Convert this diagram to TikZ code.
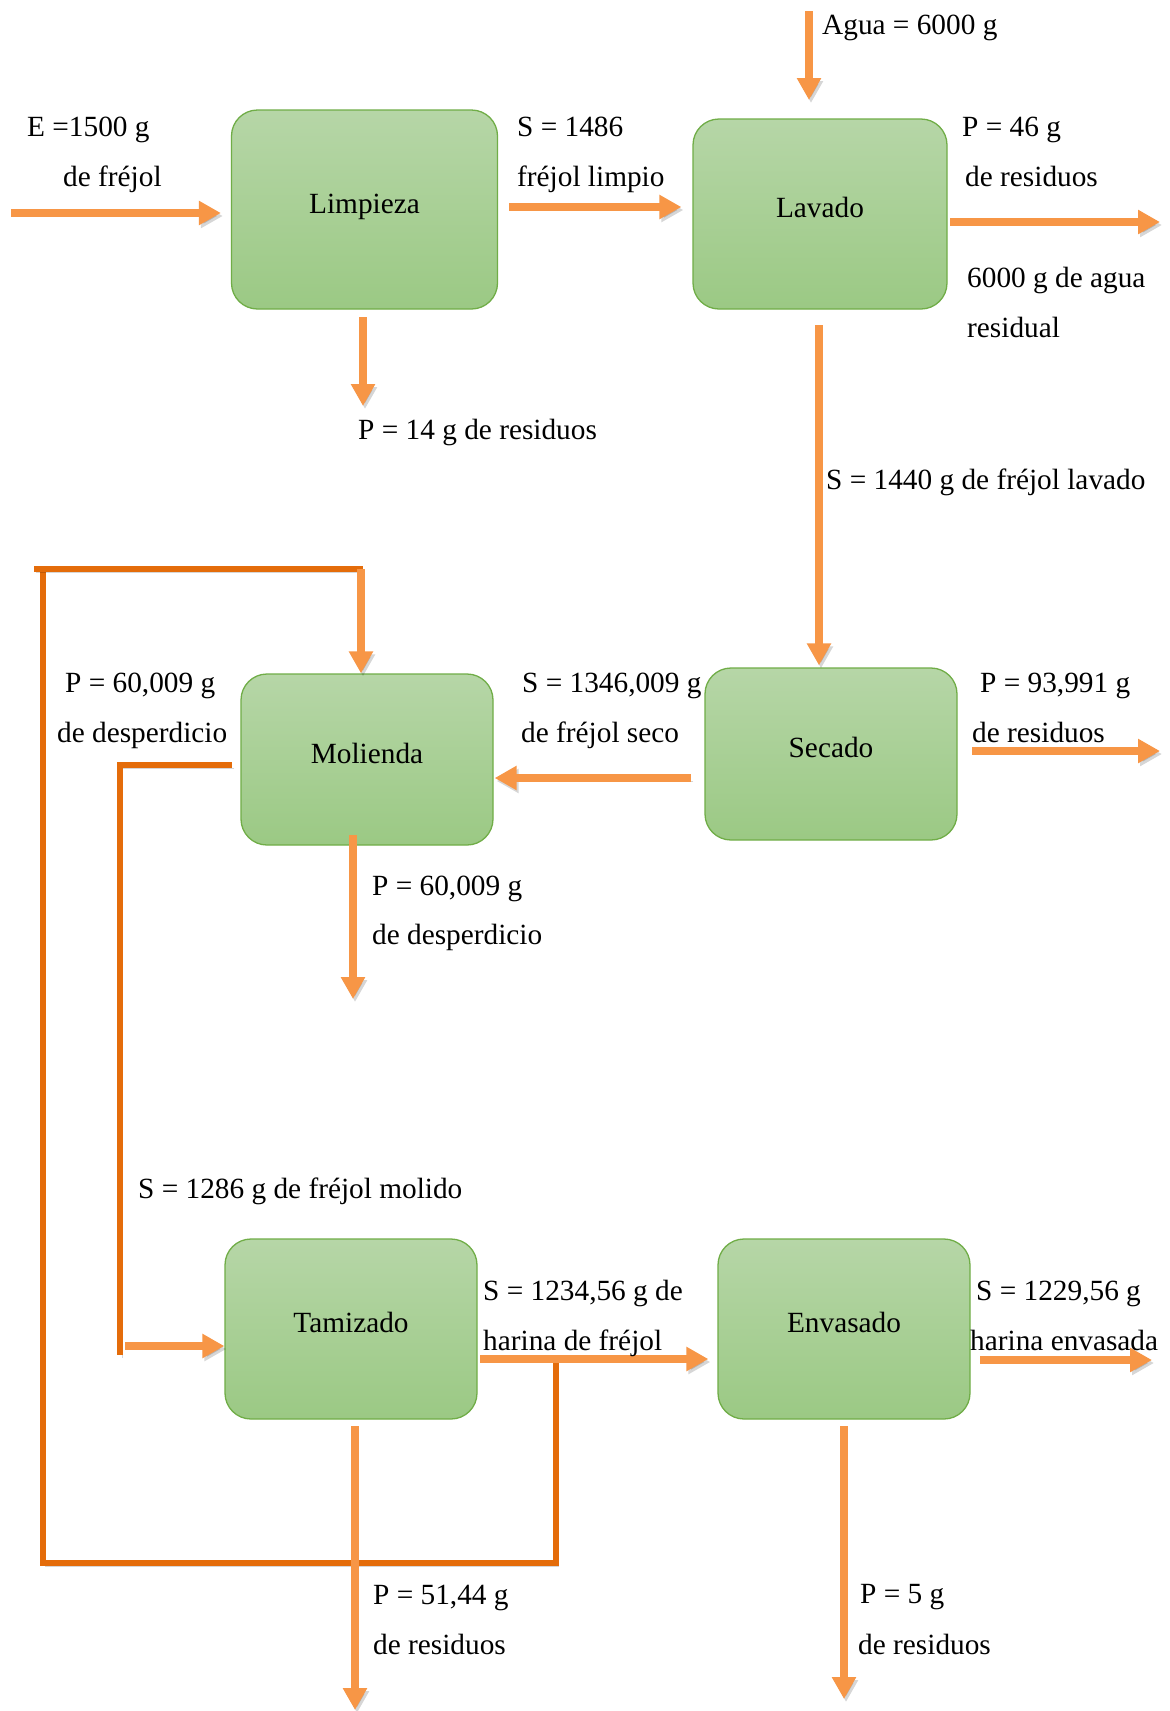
\documentclass[tikz,border=0pt]{standalone}
\usepackage{fontspec}
\setmainfont{Liberation Serif}
\usetikzlibrary{arrows.meta,calc}

\definecolor{flowor}{HTML}{F79646}
\definecolor{loopor}{HTML}{E46C0A}
\definecolor{boxtop}{RGB}{182,214,167}
\definecolor{boxbot}{RGB}{155,201,132}
\definecolor{boxline}{HTML}{70AD47}

\tikzset{
  stepbox/.style={draw=boxline, line width=1.3pt, rounded corners=26pt,
    top color=boxtop, bottom color=boxbot, inner sep=0pt},
  boxtext/.style={inner sep=0pt, text height=0.68em, text depth=0.22em,
    font=\fontsize{29.3}{35}\selectfont},
  lbl/.style={anchor=west, inner sep=0pt, text height=0.68em, text depth=0.22em,
    yshift=-7pt, font=\fontsize{29.3}{35}\selectfont},
  softshadow/.style={preaction={draw=black, opacity=0.16,
    transform canvas={shift={(2pt,-3pt)}}}},
  flow/.style={draw=flowor, line width=8pt, softshadow,
    -{Triangle[width=23pt,length=22pt]}},
  recycle/.style={draw=loopor, line width=5.5pt, softshadow},
}

\begin{document}
\begin{tikzpicture}[x=1pt, y=-1pt]
\useasboundingbox[fill=white] (0,0) rectangle (1170,1711);

% process boxes
\node[stepbox, minimum width=266pt, minimum height=199pt] (lim) at (364.5,209.5) {};
\node[stepbox, minimum width=254pt, minimum height=190pt] (lav) at (820,214) {};
\node[stepbox, minimum width=252pt, minimum height=171pt] (mol) at (367,759.5) {};
\node[stepbox, minimum width=252pt, minimum height=172pt] (sec) at (831,754) {};
\node[stepbox, minimum width=252pt, minimum height=180pt] (tam) at (351,1329) {};
\node[stepbox, minimum width=252pt, minimum height=180pt] (env) at (844,1329) {};

\node[boxtext] (limT) at ($(lim.center)+(0,1.5)$) {Limpieza};
\node[boxtext] (lavT) at ($(lav.center)+(0,1.5)$) {Lavado};
\node[boxtext] (molT) at ($(mol.center)+(0,1.5)$) {Molienda};
\node[boxtext] (secT) at ($(sec.center)+(0,1.5)$) {Secado};
\node[boxtext] (tamT) at ($(tam.center)+(0,1.5)$) {Tamizado};
\node[boxtext] (envT) at ($(env.center)+(0,1.5)$) {Envasado};

% free ends of the streams
\coordinate (inE)   at (11,213);
\coordinate (limR)  at (509,207);
\coordinate (limD0) at (363,317);
\coordinate (limD1) at (363,406);
\coordinate (agua0) at (809,11);
\coordinate (agua1) at (809,100);
\coordinate (lavR0) at (950,222);
\coordinate (lavR1) at (1160,222);
\coordinate (lavD)  at (819,325);
\coordinate (secL)  at (691,778);
\coordinate (secR0) at (972,751);
\coordinate (secR1) at (1160,751);
\coordinate (molD0) at (353,835);
\coordinate (molD1) at (353,999);
\coordinate (tamR)  at (480,1359);
\coordinate (tamD0) at (355,1426);
\coordinate (tamD1) at (355,1710);
\coordinate (envR0) at (980,1360);
\coordinate (envR1) at (1152,1360);
\coordinate (envD0) at (844,1426);
\coordinate (envD1) at (844,1699);

% recycle loop from the sieving stream back to milling
\coordinate (rcA) at (556,1359);
\coordinate (rcB) at (556,1563);
\coordinate (rcC) at (43,1563);
\coordinate (rcD) at (43,569);
\coordinate (rcE) at (34,569);
\coordinate (rcF) at (363,569);
\coordinate (rcG) at (361,569);
\draw[recycle] (rcA) -- (rcB) -- (rcC) -- (rcD);
\draw[recycle] (rcE) -- (rcF);
\draw[flow] (rcG) -- (rcG |- mol.north);

% milled bean to sieving
\coordinate (mlA) at (232,765);
\coordinate (mlB) at (120,765);
\coordinate (mlC) at (120,1355);
\coordinate (mlD) at (125,1346);
\draw[recycle] (mlA) -- (mlB) -- (mlC);
\draw[flow] (mlD) -- (mlD -| tam.west);

% main streams
\draw[flow] (inE) -- ($(inE -| lim.west)+(-10,0)$);
\draw[flow] (limR) -- ($(limR -| lav.west)+(-11,0)$);
\draw[flow] (limD0) -- (limD1);
\draw[flow] (agua0) -- (agua1);
\draw[flow] (lavR0) -- (lavR1);
\draw[flow] (lavD) -- ($(lavD |- sec.north)+(0,-2)$);
\draw[flow] (secL) -- ($(secL -| mol.east)+(1,0)$);
\draw[flow] (secR0) -- (secR1);
\draw[flow] (molD0) -- (molD1);
\draw[flow] (tamR) -- ($(tamR -| env.west)+(-9,0)$);
\draw[flow] (tamD0) -- (tamD1);
\draw[flow] (envR0) -- (envR1);
\draw[flow] (envD0) -- (envD1);

% stream labels
\node[lbl] (t1)  at (27,127)   {E =1500 g};
\node[lbl] (t2)  at (63,177)   {de fréjol};
\node[lbl] (t3)  at (517,127)  {S = 1486};
\node[lbl] (t4)  at (517,177)  {fréjol limpio};
\node[lbl] (t5)  at (358,430)  {P = 14 g de residuos};
\node[lbl] (t6)  at (822,25)   {Agua = 6000 g};
\node[lbl] (t7)  at (962,127)  {P = 46 g};
\node[lbl] (t8)  at (965,177)  {de residuos};
\node[lbl] (t9)  at (967,278)  {6000 g de agua};
\node[lbl] (t10) at (967,328)  {residual};
\node[lbl] (t11) at (826,480)  {S = 1440 g de fréjol lavado};
\node[lbl] (t12) at (65,683)   {P = 60,009 g};
\node[lbl] (t13) at (57,733)   {de desperdicio};
\node[lbl] (t14) at (522,683)  {S = 1346,009 g};
\node[lbl] (t15) at (521,733)  {de fréjol seco};
\node[lbl] (t16) at (980,683)  {P = 93,991 g};
\node[lbl] (t17) at (972,733)  {de residuos};
\node[lbl] (t18) at (372,886)  {P = 60,009 g};
\node[lbl] (t19) at (372,935)  {de desperdicio};
\node[lbl] (t20) at (138,1189) {S = 1286 g de fréjol molido};
\node[lbl] (t21) at (483,1291) {S = 1234,56 g de};
\node[lbl] (t22) at (483,1341) {harina de fréjol};
\node[lbl] (t23) at (976,1291) {S = 1229,56 g};
\node[lbl] (t24) at (970,1341) {harina envasada};
\node[lbl] (t25) at (373,1595) {P = 51,44 g};
\node[lbl] (t26) at (373,1645) {de residuos};
\node[lbl] (t27) at (860,1594) {P = 5 g};
\node[lbl] (t28) at (858,1645) {de residuos};
\end{tikzpicture}
\end{document}
